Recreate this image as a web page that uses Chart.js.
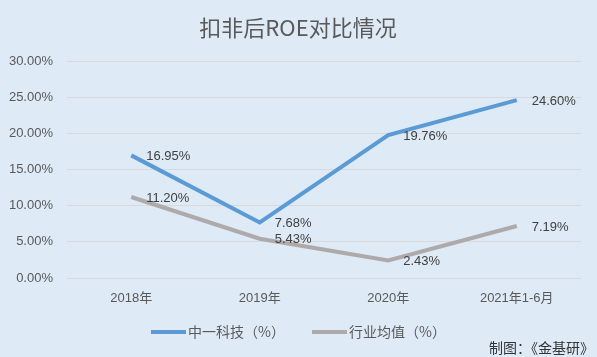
<!DOCTYPE html>
<html><head><meta charset="utf-8">
<script src="https://cdn.jsdelivr.net/npm/chart.js@4/dist/chart.umd.min.js"></script>
<style>
html,body{margin:0;padding:0;background:#DEEAF6;}
#wrap{position:relative;width:597px;height:357px;overflow:hidden;}
#note{position:absolute;left:489px;top:337px;font:14px "Noto Sans CJK SC",sans-serif;color:#333333;line-height:20px;white-space:nowrap;}
</style></head>
<body><div id="wrap"><canvas id="c" width="597" height="357"></canvas><div id="note">制图：《金基研》</div></div>
<script>
const title = '扣非后ROE对比情况';
const categories = ['2018年','2019年','2020年','2021年1-6月'];
const seriesNames = ['中一科技（%）','行业均值（%）'];
const companyROE = [16.95, 7.68, 19.76, 24.60];
const industryROE = [11.20, 5.43, 2.43, 7.19];
const colors = ['#5B9BD5','#AEAAAA'];
const FONT = '"Liberation Sans","Noto Sans CJK SC",sans-serif';

const drawPlugin = {
  id:'drawExtras',
  afterDatasetsDraw(chart){
    const ctx = chart.ctx;
    ctx.save();
    ctx.font = '13px ' + FONT;
    ctx.fillStyle = '#404040';
    ctx.textAlign = 'left';
    ctx.textBaseline = 'middle';
    chart.data.datasets.forEach((ds,i)=>{
      const meta = chart.getDatasetMeta(i);
      meta.data.forEach((pt,j)=>{
        ctx.fillText(ds.data[j].toFixed(2)+'%', pt.x+15, pt.y+1);
      });
    });
    // title
    ctx.font = '22px "Noto Sans CJK SC",' + FONT;
    ctx.fillStyle = '#595959';
    ctx.textAlign = 'center';
    ctx.fillText(title, 298, 28);
    // legend
    ctx.font = '14px "Noto Sans CJK SC",' + FONT;
    ctx.textAlign = 'left';
    const lx = [151, 312];
    chart.data.datasets.forEach((ds,i)=>{
      ctx.strokeStyle = colors[i];
      ctx.lineWidth = 4;
      ctx.beginPath();
      ctx.moveTo(lx[i], 332); ctx.lineTo(lx[i]+35, 332); ctx.stroke();
      ctx.fillStyle = '#595959';
      ctx.fillText(ds.label, lx[i]+37, 332);
    });
    ctx.restore();
  }
};

new Chart(document.getElementById('c'), {
  type:'line',
  data:{
    labels: categories,
    datasets:[
      {label:seriesNames[0], data:companyROE, borderColor:colors[0], backgroundColor:colors[0], borderWidth:4, pointRadius:0, tension:0},
      {label:seriesNames[1], data:industryROE, borderColor:colors[1], backgroundColor:colors[1], borderWidth:4, pointRadius:0, tension:0}
    ]
  },
  options:{
    responsive:false, animation:false,
    layout:{padding:{left:0,right:16,top:61,bottom:51}},
    plugins:{legend:{display:false}, title:{display:false}, tooltip:{enabled:false}},
    scales:{
      x:{
        offset:true,
        grid:{display:false, drawTicks:false},
        border:{display:false},
        ticks:{color:'#595959', font:{size:13, family:FONT}, padding:13, maxRotation:0},
        afterFit(s){ s.height = 28; }
      },
      y:{
        min:0, max:30,
        grid:{color:'#D9D9D9', lineWidth:1, drawTicks:false},
        border:{display:false},
        ticks:{stepSize:5, color:'#595959', font:{size:13, family:FONT}, padding:14,
          callback:v=>v.toFixed(2)+'%'},
        afterFit(s){ s.width = 67; }
      }
    }
  },
  plugins:[drawPlugin]
});
</script></body></html>
